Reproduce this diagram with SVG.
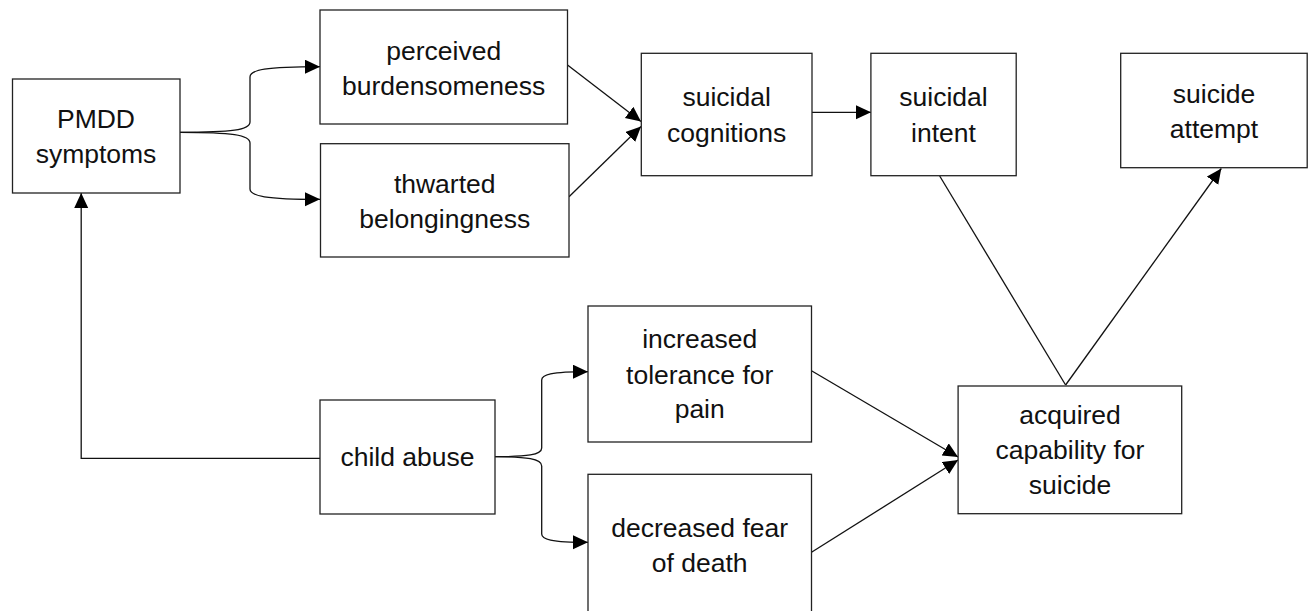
<svg xmlns="http://www.w3.org/2000/svg" width="1314" height="611" viewBox="0 0 1314 611">
<defs>
<marker id="ah" markerUnits="userSpaceOnUse" markerWidth="16" markerHeight="15" refX="15" refY="7" orient="auto" viewBox="0 0 16 15">
<path d="M0,0 L15,7 L0,14 z" fill="#000"/>
</marker>
<style>
rect{fill:#fff;stroke:#222;stroke-width:1.3}
text{font-family:"Liberation Sans",Arial,sans-serif;font-size:26.5px;fill:#111;text-anchor:middle}
.c path{fill:none;stroke:#111;stroke-width:1.3}
</style>
</defs>
<rect x="0" y="0" width="1314" height="611" style="fill:#fff;stroke:none"/>
<g class="c" id="connectors">
<path d="M180,132.3 C232,132.3 250,130 250,122 L250,77 C250,70 265,66.7 320,66.7" marker-end="url(#ah)"/>
<path d="M180,132.3 C232,132.3 250,135 250,143 L250,189 C250,196 265,199.3 320,199.3" marker-end="url(#ah)"/>
<path d="M567.5,65 L641,121.5" marker-end="url(#ah)"/>
<path d="M569,196.7 L641,126.5" marker-end="url(#ah)"/>
<path d="M812,112.3 L871,112.3" marker-end="url(#ah)"/>
<path d="M939.7,176 L1065.6,385"/>
<path d="M1065.6,385 L1221.3,168.5" marker-end="url(#ah)"/>
<path d="M320,458.3 L81.2,458.3 L81.2,193" marker-end="url(#ah)"/>
<path d="M495,456.7 C527,456.7 541.7,455 541.7,448 L541.7,380 C541.7,375 550,371.7 588,371.7" marker-end="url(#ah)"/>
<path d="M495,456.7 C527,456.7 541.7,459 541.7,466 L541.7,534 C541.7,539 550,542.3 588,542.3" marker-end="url(#ah)"/>
<path d="M811.5,370.7 L958.1,457" marker-end="url(#ah)"/>
<path d="M811.5,552.3 L958.1,460" marker-end="url(#ah)"/>
</g>
<g id="pmdd">
<rect x="12.5" y="79" width="167.5" height="114"/>
<text x="96" y="128">PMDD</text>
<text x="96" y="163">symptoms</text>
</g>
<g id="perceived">
<rect x="320" y="10" width="247.5" height="114"/>
<text x="443.7" y="59.5">perceived</text>
<text x="443.7" y="94.8">burdensomeness</text>
</g>
<g id="thwarted">
<rect x="320.5" y="143.7" width="248.5" height="113.3"/>
<text x="444.7" y="192.7">thwarted</text>
<text x="444.7" y="227.7">belongingness</text>
</g>
<g id="cognitions">
<rect x="641.3" y="53.3" width="170.7" height="122.4"/>
<text x="726.6" y="106">suicidal</text>
<text x="726.6" y="141.7">cognitions</text>
</g>
<g id="intent">
<rect x="870.9" y="53.3" width="145.3" height="122.4"/>
<text x="943.5" y="106">suicidal</text>
<text x="943.5" y="141.7">intent</text>
</g>
<g id="attempt">
<rect x="1120.7" y="53.3" width="186.5" height="114.4"/>
<text x="1214" y="102.7">suicide</text>
<text x="1214" y="137.7">attempt</text>
</g>
<g id="childabuse">
<rect x="320" y="400" width="175" height="114"/>
<text x="407.5" y="465.7">child abuse</text>
</g>
<g id="increased">
<rect x="588" y="306" width="223.5" height="136"/>
<text x="699.7" y="348.3">increased</text>
<text x="699.7" y="384.3">tolerance for</text>
<text x="699.7" y="418.3">pain</text>
</g>
<g id="decreased">
<rect x="588" y="474.3" width="223.5" height="160"/>
<text x="699.7" y="537.3">decreased fear</text>
<text x="699.7" y="571.7">of death</text>
</g>
<g id="acquired">
<rect x="958.1" y="386" width="223.6" height="127.7"/>
<text x="1070" y="424">acquired</text>
<text x="1070" y="459.3">capability for</text>
<text x="1070" y="494.3">suicide</text>
</g>
</svg>
